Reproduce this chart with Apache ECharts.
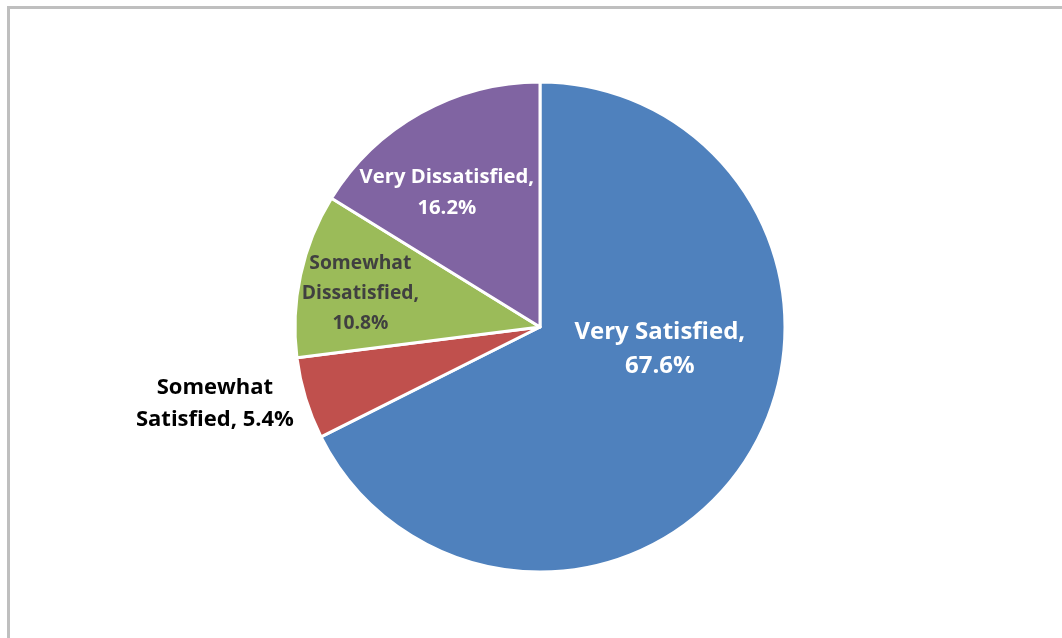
<!DOCTYPE html>
<html>
<head>
<meta charset="utf-8">
<script src="https://cdn.jsdelivr.net/npm/echarts@6/dist/echarts.min.js"></script>
<style>
  html, body { margin: 0; padding: 0; background: #fff; }
  #chart { width: 1062px; height: 638px; }
  #frame {
    position: absolute; left: 7px; top: 6px; width: 1100px; height: 700px;
    border-top: 3px solid #bfbfbf; border-left: 3px solid #bfbfbf;
    pointer-events: none;
  }
</style>
</head>
<body>
<div id="chart"></div>
<div id="frame"></div>
<script>
const categories = ['Very Satisfied', 'Somewhat Satisfied', 'Somewhat Dissatisfied', 'Very Dissatisfied'];
const values = [67.6, 5.4, 10.8, 16.2];

const colors = ['#4F81BD', '#C0504D', '#9BBB59', '#8064A2'];
// label look for each slice
const labelStyles = [
  { color: '#fff', fontSize: 24, lineHeight: 34, dx: 13, dy: -44 },
  { color: '#000', fontSize: 22, lineHeight: 32, dx: -205, dy: 40 },
  { color: '#404040', fontSize: 19.3, lineHeight: 30, dx: -57, dy: -7 },
  { color: '#fff', fontSize: 20.3, lineHeight: 31, dx: -32, dy: -25 }
];

const chart = echarts.init(document.getElementById('chart'));

chart.setOption({
  animation: false,
  color: colors,
  series: [
    {
      type: 'pie',
      center: [540, 327],
      radius: 245,
      startAngle: 90,
      clockwise: true,
      itemStyle: {
        borderColor: '#fff',
        borderWidth: 3
      },
      label: {
        position: 'inside',
        fontFamily: 'Open Sans',
        fontWeight: 'bold',
        formatter: function (p) {
          const name = p.name;
          const v = p.value.toFixed(1) + '%';
          if (name === 'Somewhat Satisfied') return 'Somewhat\nSatisfied, ' + v;
          if (name === 'Somewhat Dissatisfied') return 'Somewhat\nDissatisfied,\n' + v;
          return name + ',\n' + v;
        }
      },
      labelLine: { show: false },
      labelLayout: function (params) {
        const s = labelStyles[params.dataIndex];
        return { dx: s.dx, dy: s.dy };
      },
      emphasis: { disabled: true },
      data: categories.map(function (c, i) {
        const s = labelStyles[i];
        return {
          name: c,
          value: values[i],
          label: { color: s.color, fontSize: s.fontSize, lineHeight: s.lineHeight }
        };
      })
    }
  ]
});
</script>
</body>
</html>
